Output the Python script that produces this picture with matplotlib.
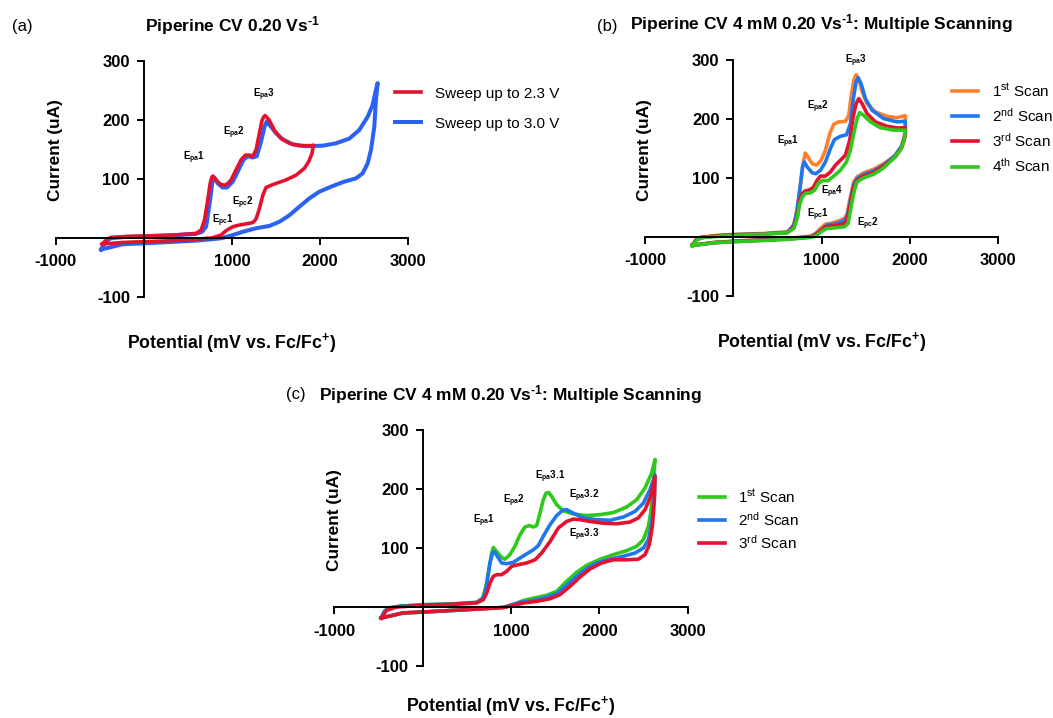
import matplotlib
matplotlib.use("Agg")
import matplotlib.pyplot as plt

plt.rcParams["font.family"] = ["Liberation Sans", "DejaVu Sans"]
plt.rcParams["mathtext.fontset"] = "custom"
plt.rcParams["mathtext.rm"] = "Liberation Sans"
plt.rcParams["mathtext.bf"] = "Liberation Sans:bold"
plt.rcParams["mathtext.it"] = "Liberation Sans:italic"
plt.rcParams["axes.unicode_minus"] = False

# ---- data (potential in mV vs Fc/Fc+, current in uA) ----
x_ticks = [-1000, 1000, 2000, 3000]
y_ticks = [-100, 100, 200, 300]

# (a) sweep up to 2.3 V
a_red_x = [-472, -420, -370, -200, 0, 329, 593, 650, 688, 725, 752, 770, 782, 800, 820, 850, 876,
           926, 960, 990, 1046, 1103, 1152, 1198, 1235, 1273, 1311, 1341, 1360, 1375, 1395, 1424,
           1481, 1556, 1651, 1764, 1915, 1923,
           1908, 1870, 1821, 1727, 1613, 1462, 1386, 1350, 1312, 1274, 1240, 1217, 1160, 1084, 1009,
           933, 876, 782, 593, 329, 0, -238, -472]
a_red_y = [-10.7, -3, 0.6, 2, 2.8, 4.5, 7.3, 13, 30, 64, 92, 102, 104.5, 102, 98, 93, 90,
           89, 93, 98, 115, 132, 140, 140, 138, 149, 177, 199, 205, 207, 204, 199,
           182, 168, 160, 156, 156, 157,
           143, 129, 117.5, 106, 98, 90, 85, 72, 50, 32, 26, 25, 23.5, 21.5, 18.6,
           12, 4.5, 0, -2.8, -5, -6.8, -8, -10.7]

# (a) sweep up to 3.0 V
a_blue_x = [-484, -440, -380, -200, 0, 329, 593, 660, 706, 752, 775, 797, 820, 839, 895, 941, 1009,
            1065, 1130, 1179, 1235, 1281, 1330, 1368, 1394, 1420, 1443, 1500, 1575, 1689, 1840, 2029,
            2180, 2331, 2444, 2539, 2595, 2641, 2652,
            2633, 2614, 2577, 2539, 2482, 2407, 2274, 2142, 1991, 1878, 1764, 1651, 1538, 1424, 1273,
            1122, 1009, 876, 593, 0, -238, -484]
a_blue_y = [-20, -8, -1, 1.5, 2.5, 4, 6.5, 10, 18.6, 64, 92, 102, 97, 92, 85, 85, 95,
            112, 132, 138, 136, 138, 163, 188, 197, 192, 188, 177, 167, 158, 155, 156,
            160, 168, 182.5, 205, 225, 256, 262,
            233, 188, 149, 126, 109, 100.6, 95, 87.6, 78, 66.7, 52.5, 38, 27, 20, 16,
            10, 4.5, -1, -5, -9.6, -11, -20]

# (b) four successive scans
b1_x = [-463, -420, -369, -200, 0, 347, 610, 667, 704, 742, 772, 791, 814, 835, 855, 893, 942, 994,
        1043, 1092, 1137, 1194, 1269, 1307, 1333, 1363, 1390, 1420, 1458, 1514, 1608, 1740, 1853, 1947,
        1947, 1928, 1891, 1815, 1702, 1589, 1476, 1401, 1363, 1326, 1288, 1258, 1194, 1100, 1043, 987,
        930, 874, 610, 0, -218, -463]
b1_y = [-14, -5, -1, 2, 4, 5.6, 8.5, 14, 31, 68, 102, 124, 142, 138, 133, 124, 121.5, 130,
        147, 175, 191, 195, 196, 206, 237, 265.5, 275, 268, 246, 226, 212, 204.5, 202, 205.6,
        181, 164, 150, 135.6, 124, 114.7, 108.5, 101.7, 93, 68, 39.5, 31, 27, 22.6, 21.5, 14,
        5.6, 1, -2.8, -7.3, -9.6, -14]

b2_x = [-463, -420, -369, -200, 0, 347, 610, 685, 723, 761, 783, 802, 836, 893, 934, 987, 1043, 1100,
        1145, 1213, 1281, 1326, 1356, 1390, 1412, 1446, 1495, 1571, 1702, 1853, 1947,
        1947, 1910, 1834, 1702, 1589, 1476, 1401, 1363, 1326, 1288, 1250, 1175, 1062, 1006, 930, 874,
        610, 0, -218, -463]
b2_y = [-14, -5, -1.5, 1.5, 3.5, 5, 7.5, 20, 45, 90, 118.6, 127, 118.6, 108.5, 107, 113, 127, 150,
        165, 170.6, 173, 192, 231.6, 262.7, 270, 260, 234.5, 214.7, 200.6, 195, 196,
        175, 155, 138.4, 121.5, 112, 105.6, 99, 89, 62, 34, 27, 22.6, 20, 13, 4.5, 0,
        -3.2, -7.8, -10, -14.5]

b3_x = [-463, -420, -369, -200, 0, 347, 610, 685, 723, 753, 780, 817, 855, 904, 949, 987, 1043, 1100,
        1156, 1213, 1269, 1318, 1356, 1390, 1420, 1458, 1514, 1608, 1740, 1853, 1947,
        1947, 1910, 1834, 1702, 1589, 1476, 1401, 1363, 1326, 1288, 1250, 1137, 1043, 987, 930, 874,
        610, 0, -218, -463]
b3_y = [-14.5, -5, -1.5, 1.5, 3, 4.8, 7, 17, 34, 62, 73.4, 78, 79, 83.6, 96, 103, 103, 110,
        121.5, 130, 138.4, 164, 203, 226, 234.5, 226, 209, 195, 187.6, 184.7, 185,
        172, 152.5, 135.6, 120, 109, 103, 96, 85, 56.5, 28, 21.5, 18.6, 17, 10, 3, -0.5,
        -3.8, -8, -10, -14.5]

b4_x = [-463, -407, -330, -256, 0, 347, 610, 685, 723, 753, 783, 817, 874, 919, 968, 1017, 1070, 1137,
        1213, 1281, 1326, 1363, 1401, 1431, 1476, 1552, 1665, 1815, 1947,
        1936, 1891, 1815, 1702, 1589, 1476, 1401, 1371, 1333, 1300, 1258, 1137, 1055, 994, 930, 874,
        610, 0, -218, -463]
b4_y = [-15, -4.5, -1, 0, 2.3, 4.5, 6.8, 14, 31, 56.5, 68, 73.4, 74.6, 79, 91.5, 96, 95, 103,
        113, 127, 147, 175, 200.6, 210.7, 206, 195, 185, 181, 181,
        164, 147, 133, 117, 106, 100, 93, 79, 51, 22.6, 17, 15, 14, 8.5, 1, -1,
        -4.5, -8.5, -10, -15]

# (c) three successive scans up to 3.0 V
c1_x = [-472, -430, -389, -250, 0, 347, 611, 679, 717, 755, 781, 800, 838, 894, 932, 989, 1045, 1102,
        1158, 1208, 1253, 1291, 1328, 1366, 1396, 1426, 1460, 1517, 1592, 1706, 1857, 2008, 2158,
        2309, 2423, 2517, 2592, 2630,
        2611, 2581, 2555, 2498, 2423, 2309, 2158, 2008, 1857, 1743, 1630, 1517, 1404, 1253, 1140,
        1026, 932, 611, 0, -219, -472]
c1_y = [-18.6, -7, -1.7, 1.5, 4, 5.6, 8, 15, 35, 69, 91.5, 101, 94, 84, 81, 89, 103, 122.6,
        135.6, 138, 135.6, 138, 159, 182, 193, 194, 187.6, 173.4, 163, 157.6, 155, 156.5, 160,
        169.5, 182, 201.7, 227, 250,
        204.5, 159, 136.7, 114, 103, 95.5, 88.7, 81, 70.6, 58.8, 43.5, 26.5, 19.8, 15, 11,
        4, -0.5, -3.4, -8.5, -10, -18.6]

c2_x = [-472, -430, -389, -250, 0, 347, 611, 687, 725, 762, 792, 811, 845, 894, 951, 1026, 1102, 1177,
        1253, 1309, 1366, 1442, 1517, 1585, 1630, 1706, 1819, 1970, 2121, 2272, 2404, 2498, 2574, 2630,
        2623, 2592, 2555, 2498, 2404, 2272, 2121, 1970, 1857, 1743, 1630, 1517, 1404, 1253, 1102,
        989, 913, 611, 0, -219, -472]
c2_y = [-18.6, -7, -1.7, 1.5, 3.5, 5, 7.5, 15, 38, 74.6, 91.5, 94, 86, 74.6, 73.4, 75.7, 83, 90,
        97, 104, 120, 139.5, 155, 164, 165, 159, 151, 148, 147, 152.5, 162, 176, 199, 224,
        187.6, 142, 114, 100, 91.5, 86, 81, 74.6, 65, 52, 36.7, 22.6, 16.4, 11, 8,
        3, -0.5, -3.6, -8.6, -10, -18.6]

c3_x = [-464, -408, -294, 0, 347, 611, 687, 725, 762, 800, 838, 894, 951, 1008, 1083, 1177, 1272,
        1347, 1442, 1536, 1630, 1706, 1781, 1894, 2045, 2196, 2347, 2442, 2517, 2581, 2630,
        2623, 2600, 2566, 2517, 2442, 2309, 2158, 2026, 1894, 1781, 1668, 1555, 1442, 1291, 1140,
        1008, 913, 611, 0, -219, -464]
c3_y = [-18.6, -5.6, 0, 2.8, 4.5, 7, 12.4, 23.7, 40.7, 52, 54.8, 54.8, 60.5, 69, 71.8, 74.6, 80,
        91.5, 111, 134, 145, 149, 148, 145, 142, 141, 144, 151, 165, 187.6, 221.5,
        182, 136.7, 105.6, 88.7, 81, 80, 80, 74.6, 64.4, 50.8, 35, 21, 14, 9.6, 6.8,
        2.3, -1, -3.6, -8.6, -10, -18.6]

# peak labels: (number, subscript, x, y)
a_notes = [("1", "pa", 574, 136), ("2", "pa", 1028, 177), ("3", "pa", 1368, 242),
           ("1", "pc", 895, 29), ("2", "pc", 1130, 59)]
b_notes = [("1", "pa", 621, 161), ("2", "pa", 957, 221), ("3", "pa", 1390, 299),
           ("4", "pa", 1119, 77), ("1", "pc", 960, 37), ("2", "pc", 1522, 22)]
c_notes = [("1", "pa", 698, 146), ("2", "pa", 1034, 180), ("3.1", "pa", 1442, 220),
           ("3.2", "pa", 1830, 189), ("3.3", "pa", 1830, 123)]

RED = "#E3132F"
BLUE_A = "#2B62F2"
ORANGE = "#FF7F2E"
BLUE = "#1F77EE"
GREEN = "#2FC81C"
LW = 2.6
HY = "\u2010"  # plain hyphen for the "-1" exponent

W, H = 1053, 718
fig = plt.figure(figsize=(W / 100, H / 100), dpi=100)


def make_axes(left, top, right, bottom, xlab_y=-0.2186):
    ax = fig.add_axes([left / W, 1 - bottom / H, (right - left) / W, (bottom - top) / H])
    ax.set_xlim(-1000, 3000)
    ax.set_ylim(-100, 300)
    for s in ["top", "right"]:
        ax.spines[s].set_visible(False)
    ax.spines["left"].set_position(("data", 0))
    ax.spines["bottom"].set_position(("data", 0))
    for s in ["left", "bottom"]:
        ax.spines[s].set_linewidth(1.4)
    ax.set_xticks(x_ticks)
    ax.set_yticks(y_ticks)
    ax.tick_params(direction="out", length=5, width=1.4, labelsize=12)
    ax.tick_params(axis="x", pad=7)
    ax.tick_params(axis="y", pad=5)
    for lab in ax.get_xticklabels() + ax.get_yticklabels():
        lab.set_fontweight("bold")
    ax.text(0.5, xlab_y, r"Potential (mV vs. Fc/Fc$^{\mathbf{+}}$)", transform=ax.transAxes,
            ha="center", va="baseline", fontsize=12.8, fontweight="bold")
    ax.text(0.0, 0.62, "Current (uA)", transform=ax.transAxes, rotation=90,
            ha="center", va="center", fontsize=12.4, fontweight="bold")
    return ax


def notes(ax, items):
    for num, sub, x, y in items:
        ax.text(x, y, r"E$_{\mathbf{%s}}$%s" % (sub, num), ha="center", va="center",
                fontsize=7, fontweight="bold")


# ---- (a) ----
ax_a = make_axes(55.7, 60.7, 408.3, 296.7)
l_blue, = ax_a.plot(a_blue_x, a_blue_y, color=BLUE_A, lw=LW + 0.3)
l_red, = ax_a.plot(a_red_x, a_red_y, color=RED, lw=LW)
notes(ax_a, a_notes)
ax_a.text(0.5, 1.147, r"Piperine CV 0.20 Vs$^{\mathbf{%s1}}$" % HY, transform=ax_a.transAxes,
          ha="center", va="center", fontsize=12.5, fontweight="bold")
fig.text(12 / W, 1 - 26 / H, "(a)", ha="left", va="center", fontsize=12)
ax_a.legend([l_red, l_blue], ["Sweep up to 2.3 V", "Sweep up to 3.0 V"], loc="upper left",
            bbox_to_anchor=(0.962, 0.89), frameon=False, fontsize=11, borderpad=0,
            borderaxespad=0, handlelength=1.7, handletextpad=0.9, labelspacing=1.05)

# ---- (b) ----
ax_b = make_axes(645, 60, 998.3, 295.7)
hb = []
for xs, ys, c in [(b1_x, b1_y, ORANGE), (b2_x, b2_y, BLUE), (b3_x, b3_y, RED), (b4_x, b4_y, GREEN)]:
    ln, = ax_b.plot(xs, ys, color=c, lw=LW)
    hb.append(ln)
notes(ax_b, b_notes)
ax_b.text(0.5, 1.155, r"Piperine CV 4 mM 0.20 Vs$^{\mathbf{%s1}}$: Multiple Scanning" % HY,
          transform=ax_b.transAxes, ha="center", va="center", fontsize=12.5, fontweight="bold")
fig.text(597 / W, 1 - 26 / H, "(b)", ha="left", va="center", fontsize=12)
ax_b.legend(hb, [r"1$^{\mathrm{st}}$ Scan", r"2$^{\mathrm{nd}}$ Scan", r"3$^{\mathrm{rd}}$ Scan",
                 r"4$^{\mathrm{th}}$ Scan"], loc="upper left", bbox_to_anchor=(0.869, 0.908),
            frameon=False, fontsize=11, borderpad=0, borderaxespad=0, handlelength=1.7,
            handletextpad=0.9, labelspacing=0.48)

# ---- (c) ----
ax_c = make_axes(334.3, 430, 687.7, 666, xlab_y=-0.19)
hc = []
for xs, ys, c in [(c1_x, c1_y, GREEN), (c2_x, c2_y, BLUE), (c3_x, c3_y, RED)]:
    ln, = ax_c.plot(xs, ys, color=c, lw=LW)
    hc.append(ln)
notes(ax_c, c_notes)
ax_c.text(0.5, 1.15, r"Piperine CV 4 mM 0.20 Vs$^{\mathbf{%s1}}$: Multiple Scanning" % HY,
          transform=ax_c.transAxes, ha="center", va="center", fontsize=12.5, fontweight="bold")
fig.text(286 / W, 1 - 395 / H, "(c)", ha="left", va="center", fontsize=12)
ax_c.legend(hc, [r"1$^{\mathrm{st}}$ Scan", r"2$^{\mathrm{nd}}$ Scan", r"3$^{\mathrm{rd}}$ Scan"],
            loc="upper left", bbox_to_anchor=(1.031, 0.755), frameon=False, fontsize=11,
            borderpad=0, borderaxespad=0, handlelength=1.7, handletextpad=0.9, labelspacing=0.33)

fig.savefig("out.png", dpi=100)
